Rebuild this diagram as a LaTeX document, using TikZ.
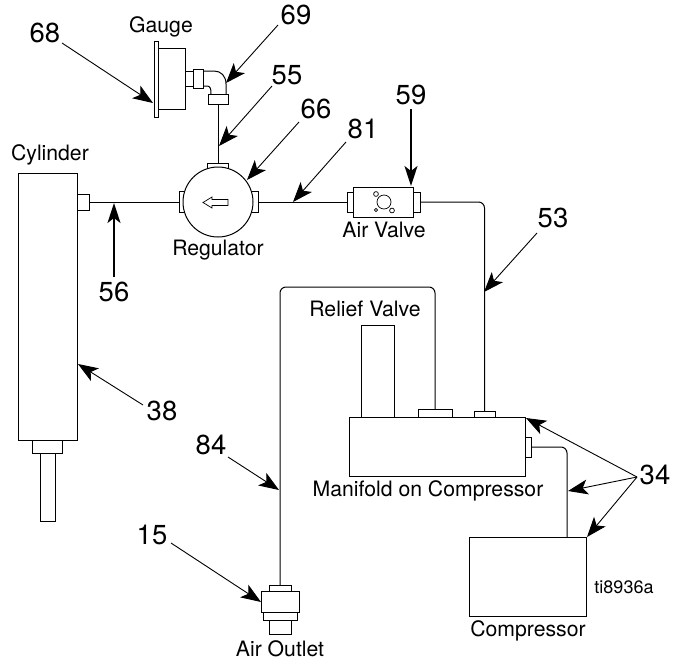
\documentclass[tikz,border=0pt]{standalone}
\usepackage{fontspec}
\setmainfont{TeX Gyre Heros}
\usetikzlibrary{arrows.meta}
\tikzset{
  part/.style={draw,rectangle,fill=white,inner sep=0pt,outer sep=0pt},
  pipe/.style={rounded corners=6pt},
  call/.style={line width=.9pt,-{Stealth[length=20pt,width=15pt,inset=5pt]}},
  heavy/.style={line width=1.7pt,-{Stealth[length=20pt,width=13pt,inset=5pt]}},
  num/.style={inner sep=0pt,font=\fontsize{27.5}{29}\selectfont},
  lbl/.style={inner sep=0pt,font=\fontsize{21.2}{23}\selectfont}
}
\begin{document}
\begin{tikzpicture}[x=1pt,y=-1pt,line width=1pt]
\useasboundingbox (0,0) rectangle (686,662);
% cylinder
\node[part,minimum width=30pt,minimum height=13pt] (collar) at (47,446.5) {};
\node[part,minimum width=15pt,minimum height=68pt] (rod) at (47.5,487) {};
\node[part,minimum width=59pt,minimum height=267pt] (cylinder) at (47.5,306.5) {};
\node[part,minimum width=12pt,minimum height=16pt] (cylport) at (83,202) {};
% regulator
\node[part,minimum width=12pt,minimum height=21pt] (regleft) at (185,202) {};
\node[part,minimum width=12pt,minimum height=21pt] (regright) at (252,202) {};
\node[part,minimum width=21pt,minimum height=12pt] (regtop) at (218,169) {};
\node[part,circle,minimum size=70pt] (regulator) at (218,202) {};
\draw[line width=.7pt] (228,199.5)--(212,199.5)--(212,197)--(203,202.5)--(212,208)--(212,205.5)--(228,205.5)--cycle;
% gauge
\node[part,minimum width=27pt,minimum height=61pt] (gaugebody) at (171.5,78.5) {};
\node[part,minimum width=4pt,minimum height=76pt] (gaugeface) at (156,79) {};
\node[part,minimum width=8pt,minimum height=15pt] (stem) at (189,78.5) {};
\node[part,minimum width=10pt,minimum height=19pt] (nut) at (198,78.5) {};
\node[part,minimum width=20pt,minimum height=10pt] (gaugefit) at (218,99) {};
\draw (nut.east |- 0,71)--(214,71) .. controls (221,71) and (226,76) .. (226,84)--(226,94);
\draw (nut.east |- 0,86)--(207,86) .. controls (210,86) and (211,88) .. (211,94);
% air valve
\node[part,minimum width=6pt,minimum height=20pt] (valveleft) at (350,202) {};
\node[part,minimum width=7pt,minimum height=20pt] (valveright) at (416.5,202) {};
\node[part,minimum width=60pt,minimum height=30pt] (valve) at (383,202) {};
\draw[line width=.7pt] (384,202) circle (7);\draw[line width=.7pt] (376,194) circle (2.4);
\draw[line width=.7pt] (376,210) circle (1.6);\draw[line width=.7pt] (392,210.5) circle (2.4);
% manifold and compressor
\node[part,minimum width=33pt,minimum height=92pt] (relief) at (377.5,371) {};
\node[part,minimum width=34pt,minimum height=8pt] (bigport) at (435,413) {};
\node[part,minimum width=21pt,minimum height=6pt] (smallport) at (484.5,414) {};
\node[part,minimum width=176pt,minimum height=59pt] (manifold) at (437,446.5) {};
\node[part,minimum width=6pt,minimum height=20pt] (maniport) at (528,447) {};
\node[part,minimum width=117pt,minimum height=79pt] (compressor) at (527.5,576.5) {};
% air outlet
\node[part,minimum width=22pt,minimum height=6pt] (outlettop) at (280,588) {};
\node[part,minimum width=22pt,minimum height=14pt] (outletend) at (280,627) {};
\node[part,minimum width=34pt,minimum height=8pt] (outletcollar) at (280,616) {};
\node[part,minimum width=38pt,minimum height=21pt] (outlet) at (280,601.5) {};
% lines
\draw (cylport.east)--(regleft.west);
\draw (regright.east)--(valveleft.west);
\draw (gaugefit.south)--(regtop.north);
\draw[pipe] (valveright.east)-|(smallport.north);
\coordinate (top84r) at (435,287);\coordinate (top84l) at (280,287);
\draw[pipe] (bigport.north)--(top84r)--(top84l)--(outlettop.north);
\coordinate (comp34) at (567,537);
\draw[pipe] (maniport.east)-|(comp34);
% texts
\node[lbl] (gaugetext) at (161,27) {Gauge};
\node[lbl] (cylindertext) at (50,155) {Cylinder};
\node[lbl] (regulatortext) at (218,250) {Regulator};
\node[lbl] (valvetext) at (384,230) {Air Valve};
\node[lbl] (relieftext) at (365,309) {Relief Valve};
\node[lbl] (manifoldtext) at (428,491) {Manifold on Compressor};
\node[lbl] (compressortext) at (528,631) {Compressor};
\node[lbl] (outlettext) at (280,649) {Air Outlet};
\node[lbl,font=\fontsize{18}{20}\selectfont] (refcode) at (624,587) {ti8936a};
% callouts
\node[num] (n68) at (45,33) {68};\coordinate (t68) at (62,43);\coordinate (h68) at (153,103);
\node[num] (n69) at (296,15) {69};\coordinate (t69) at (278,25);\coordinate (h69) at (226,83);
\node[num] (n55) at (287,75) {55};\coordinate (t55) at (272,86);\coordinate (h55) at (219,146);
\node[num] (n66) at (316,109) {66};\coordinate (t66) at (299,122);\coordinate (h66) at (247,180);
\node[num] (n81) at (363,129) {81};\coordinate (t81) at (346,142);\coordinate (h81) at (293,202);
\node[num] (n59) at (411,95) {59};\coordinate (t59) at (411,109);\coordinate (h59) at (411,186);
\node[num] (n53) at (553,218) {53};\coordinate (t53) at (537,233);\coordinate (h53) at (484,292);
\node[num] (n56) at (114,292) {56};\coordinate (t56) at (114,277);\coordinate (h56) at (114,203);
\node[num] (n38) at (162,411) {38};\coordinate (t38) at (143,405);\coordinate (h38) at (78,364);
\node[num] (n84) at (211,445) {84};\coordinate (t84) at (228,457);\coordinate (h84) at (279,490);
\node[num] (n15) at (152,535) {15};\coordinate (t15) at (171,543);\coordinate (h15) at (261,602);
\node[num] (n34) at (655,475) {34};\coordinate (t34) at (637,477);
\coordinate (h34a) at (526,418);\coordinate (h34b) at (568,491);\coordinate (h34c) at (587,537);
\draw[call] (t68)--(h68);\draw[call] (t69)--(h69);\draw[call] (t55)--(h55);
\draw[call] (t66)--(h66);\draw[call] (t81)--(h81);\draw[heavy] (t59)--(h59);
\draw[call] (t53)--(h53);\draw[heavy] (t56)--(h56);\draw[call] (t38)--(h38);
\draw[call] (t84)--(h84);\draw[call] (t15)--(h15);
\draw[call] (t34)--(h34a);\draw[call] (t34)--(h34b);\draw[call] (t34)--(h34c);
\end{tikzpicture}
\end{document}
